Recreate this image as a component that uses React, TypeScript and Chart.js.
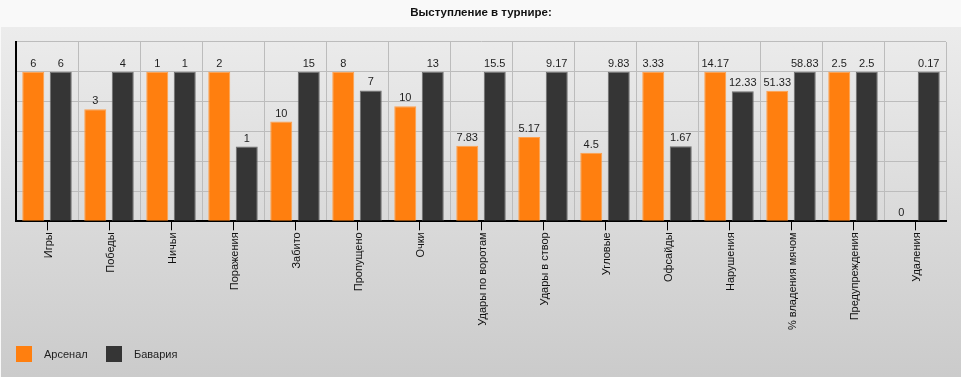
import React, { useEffect, useRef } from "react";
import { Chart, registerables } from "chart.js";

Chart.register(...registerables);

const titleText = "Выступление в турнире:";
const categories = [
  "Игры",
  "Победы",
  "Ничьи",
  "Поражения",
  "Забито",
  "Пропущено",
  "Очки",
  "Удары по воротам",
  "Удары в створ",
  "Угловые",
  "Офсайды",
  "Нарушения",
  "% владения мячом",
  "Предупреждения",
  "Удаления",
];
const seriesNames = ["Арсенал", "Бавария"];
const arsenal = [6, 3, 1, 2, 10, 8, 10, 7.83, 5.17, 4.5, 3.33, 14.17, 51.33, 2.5, 0];
const bavaria = [6, 4, 1, 1, 15, 7, 13, 15.5, 9.17, 9.83, 1.67, 12.33, 58.83, 2.5, 0.17];
const seriesColors = ["#ff7f0f", "#353535"];
const seriesBorders = ["#ffa04d", "#6e6e6e"];

const FONT = '"Liberation Sans", Arial, sans-serif';

const valueLabels = {
  id: "valueLabels",
  afterDatasetsDraw(chart: any) {
    const ctx = chart.ctx;
    ctx.save();
    ctx.font = `11px ${FONT}`;
    ctx.fillStyle = "#1e1e1e";
    ctx.textAlign = "center";
    ctx.textBaseline = "alphabetic";
    chart.data.datasets.forEach((ds: any, di: number) => {
      const meta = chart.getDatasetMeta(di);
      meta.data.forEach((el: any, i: number) => {
        const { x, y } = el.getProps(["x", "y"], true);
        ctx.fillText(String(ds.rawValues[i]), x, y - 5);
      });
    });
    ctx.restore();
  },
};

export default function App() {
  const ref = useRef<HTMLCanvasElement | null>(null);

  useEffect(() => {
    document.body.style.margin = "0";
    const norm = (a: number[], b: number[]) =>
      a.map((v, i) => {
        const m = Math.max(a[i], b[i]);
        return m > 0 ? v / m : 0;
      });
    const chart = new Chart(ref.current!, {
      type: "bar",
      data: {
        labels: categories,
        datasets: [
          {
            label: seriesNames[0],
            data: norm(arsenal, bavaria),
            rawValues: arsenal,
            backgroundColor: seriesColors[0],
            borderColor: seriesBorders[0],
            borderWidth: 1,
            categoryPercentage: 0.887,
            barPercentage: 0.8,
          } as any,
          {
            label: seriesNames[1],
            data: norm(bavaria, arsenal),
            rawValues: bavaria,
            backgroundColor: seriesColors[1],
            borderColor: seriesBorders[1],
            borderWidth: 1,
            categoryPercentage: 0.887,
            barPercentage: 0.8,
          } as any,
        ],
      },
      options: {
        animation: false,
        responsive: false,
        maintainAspectRatio: false,
        layout: { padding: { left: 16, right: 15, top: 0, bottom: 45 } },
        plugins: {
          legend: { display: false },
          tooltip: { enabled: false },
          title: {
            display: true,
            text: titleText,
            color: "#111",
            font: { family: FONT, size: 11.5, weight: "bold" },
            padding: { top: 6, bottom: 22 },
          },
        },
        scales: {
          x: {
            type: "category",
            position: "bottom",
            offset: true,
            grid: {
              offset: false,
              drawOnChartArea: false,
              drawTicks: true,
              tickLength: 9,
              tickColor: "#000",
              tickWidth: 1,
            },
            border: { display: true, color: "#000", width: 2 },
            ticks: {
              color: "#111",
              font: { family: FONT, size: 11 },
              minRotation: 90,
              maxRotation: 90,
              autoSkip: false,
              padding: 2,
              labelOffset: 2,
            },
          },
          x2: {
            type: "category",
            position: "top",
            offset: true,
            grid: {
              offset: true,
              drawOnChartArea: true,
              drawTicks: false,
              color: "#bcbcbc",
            },
            border: { display: false },
            ticks: { display: false },
          },
          y: {
            min: 0,
            max: 1.2,
            ticks: { display: false, stepSize: 0.2 },
            grid: { color: "#bcbcbc", drawTicks: false },
            border: { display: true, color: "#000", width: 2 },
          },
        },
      } as any,
      plugins: [valueLabels],
    });
    return () => chart.destroy();
  }, []);

  const legendText: React.CSSProperties = {
    position: "absolute",
    top: 348,
    fontFamily: FONT,
    fontSize: 11,
    color: "#1e1e1e",
    lineHeight: "13px",
  };
  const box = (left: number, color: string): React.CSSProperties => ({
    position: "absolute",
    left,
    top: 346,
    width: 16,
    height: 16,
    background: color,
  });

  return (
    <div style={{ position: "relative", width: 961, height: 377, background: "#f9f9f9", overflow: "hidden" }}>
      <div
        style={{
          position: "absolute",
          left: 1,
          top: 27,
          width: 960,
          height: 350,
          background: "linear-gradient(to bottom, #ececec 0%, #cbcbcb 100%)",
        }}
      />
      <canvas ref={ref} width={961} height={377} style={{ position: "absolute", left: 0, top: 0, width: 961, height: 377 }} />
      <div style={box(16, seriesColors[0])} />
      <div style={{ ...legendText, left: 44 }}>{seriesNames[0]}</div>
      <div style={box(106, seriesColors[1])} />
      <div style={{ ...legendText, left: 134 }}>{seriesNames[1]}</div>
    </div>
  );
}
